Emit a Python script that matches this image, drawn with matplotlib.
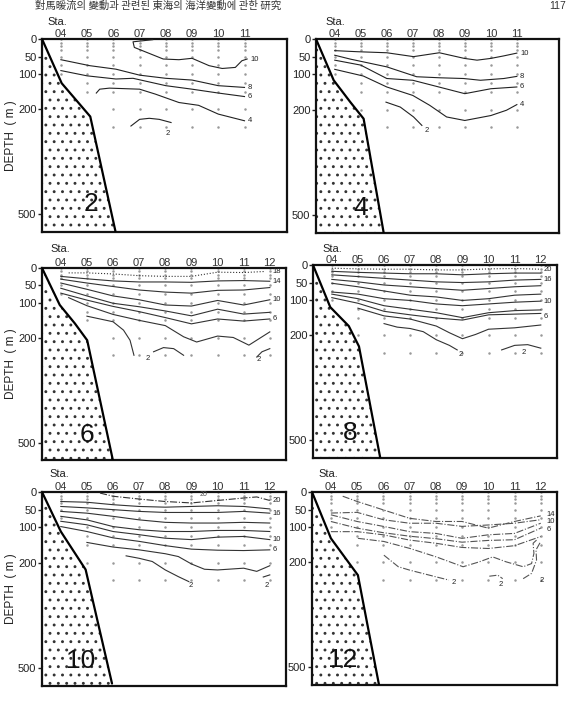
import numpy as np
import matplotlib
matplotlib.use('Agg')
import matplotlib.pyplot as plt
from matplotlib.patches import Polygon

plt.rcParams['font.family'] = ['Liberation Sans', 'DejaVu Sans']
plt.rcParams['hatch.linewidth'] = 0.9

W, H = 571, 708

# ---------------- data ----------------
STA11 = [4, 5, 6, 7, 8, 9, 10, 11]
STA12 = [4, 5, 6, 7, 8, 9, 10, 11, 12]
STA11_LABELS = ['04', '05', '06', '07', '08', '09', '10', '11']
STA12_LABELS = ['04', '05', '06', '07', '08', '09', '10', '11', '12']
DEPTH_TICKS = [0, 50, 100, 200, 500]
STD_DEPTHS = [0, 10, 20, 30, 50, 75, 100, 125, 150, 200, 250]
MONTHS = ['2', '4', '6', '8', '10', '12']

# bottom (shelf) profiles: station position vs depth
feb_bot_x = [3.28, 4.03, 5.12, 6.08]
feb_bot_d = [0, 126, 221, 548]
apr_bot_x = [3.28, 3.96, 4.6, 5.11, 5.88]
apr_bot_d = [0, 117, 179, 226, 549]
jun_bot_x = [3.28, 3.96, 4.54, 5.01, 6.0]
jun_bot_d = [0, 106, 159, 207, 553]
aug_bot_x = [3.28, 3.94, 4.65, 5.04, 5.86]
aug_bot_d = [0, 120, 174, 232, 552]
oct_bot_x = [3.28, 4.0, 4.95, 5.96]
oct_bot_d = [0, 112, 220, 543]
dec_bot_x = [3.28, 4.0, 5.03, 5.83]
dec_bot_d = [0, 132, 237, 548]

# February isotherms (depth, m)
feb_t10_x = [7.5, 6.75, 6.8, 7.1, 7.9, 8.5, 9.0, 9.65, 10.15, 10.65, 10.9, 11.1]
feb_t10_d = [2, 8, 24, 33, 57, 59, 55, 76, 84, 81, 62, 57]
feb_t8_x = [4.0, 5.1, 6.1, 7.0, 8.0, 9.0, 10.0, 11.0]
feb_t8_d = [59, 76, 86, 103, 112, 117, 133, 138]
feb_t6_x = [4.0, 5.0, 6.1, 6.75, 8.0, 9.0, 10.0, 11.0]
feb_t6_d = [90, 105, 114, 112, 133, 143, 154, 164]
feb_t4_x = [5.35, 5.48, 5.85, 7.0, 7.6, 8.5, 9.25, 10.0, 11.0]
feb_t4_d = [154, 143, 140, 143, 157, 181, 189, 214, 233]
feb_t2_x = [6.67, 7.0, 7.37, 7.75, 8.2]
feb_t2_d = [248, 229, 226, 229, 238]

# April
apr_t10_x = [4.0, 4.86, 6.0, 7.03, 8.02, 8.98, 9.47, 10.0, 10.49, 11.0]
apr_t10_d = [33, 36, 39, 50, 39, 55, 60, 55, 48, 40]
apr_t8_x = [4.0, 4.6, 6.0, 7.15, 8.05, 8.95, 9.6, 10.5, 11.0]
apr_t8_d = [46, 57, 79, 107, 110, 112, 117, 112, 106]
apr_t6_d = [60, 74, 112, 117, 136, 155, 141, 136]
apr_t4_x = [4.0, 5.1, 6.0, 7.0, 7.65, 8.3, 9.0, 10.0, 10.6, 11.0]
apr_t4_d = [86, 105, 136, 160, 188, 221, 231, 217, 202, 186]
apr_t2_x = [5.97, 6.52, 7.03, 7.35]
apr_t2_d = [179, 193, 221, 245]

# June
jun_t18_x = [4.3, 5, 6, 7, 8, 9, 10, 11, 11.8]
jun_t18_d = [14, 14, 17, 22, 24, 24, 12, 13, 10]
jun_t14_d = [24, 31, 37, 40, 40, 41, 37, 36, 38]
jun_t12_d = [32, 43, 53, 63, 69, 72, 64, 63, 56]
jun_t10_d = [43, 61, 80, 91, 106, 109, 93, 106, 91]
jun_t8_d = [58, 80, 101, 111, 123, 137, 118, 132, 127]
jun_t6_d = [72, 92, 110, 125, 142, 160, 146, 152, 146]
jun_t4_x = [4.3, 5, 6, 7, 8, 8.7, 9.2, 10, 10.6, 11.2, 12]
jun_t4_d = [85, 108, 133, 150, 165, 197, 212, 195, 199, 221, 183]
jun_t2a_x = [5.0, 6.0, 6.4, 6.65, 6.8]
jun_t2a_d = [138, 154, 178, 207, 250]
jun_t2b_x = [7.55, 7.93, 8.32, 8.7]
jun_t2b_d = [240, 228, 231, 250]
jun_t2c_x = [11.5, 11.7, 12.0]
jun_t2c_d = [255, 240, 231]

# August
aug_t20_d = [9, 11, 12, 12, 14, 14, 11, 10, 12]
aug_t18_d = [18, 21, 23, 25, 25, 28, 25, 23, 23]
aug_t16_d = [28, 33, 38, 43, 48, 50, 48, 43, 41]
aug_t14_d = [41, 48, 57, 62, 67, 72, 67, 62, 59]
aug_t12_d = [52, 62, 74, 86, 91, 101, 96, 86, 83]
aug_t10_d = [77, 83, 96, 101, 111, 116, 111, 106, 103]
aug_t8_d = [83, 96, 116, 126, 136, 150, 136, 130, 128]
aug_t6_d = [93, 109, 132, 142, 151, 157, 142, 140, 138]
aug_t4_x = [5, 6, 7, 7.5, 8, 8.5, 9, 9.5, 10, 11, 12]
aug_t4_d = [123, 145, 154, 164, 174, 193, 210, 198, 183, 179, 171]
aug_t2a_x = [6, 6.5, 7, 7.5, 8, 8.5, 8.8]
aug_t2a_d = [167, 177, 181, 190, 213, 229, 242]
aug_t2b_x = [10.5, 11, 11.5, 12]
aug_t2b_d = [242, 229, 227, 237]

# October
oct_t20_x = [5.5, 6, 7, 8, 9, 10, 11, 11.5, 12]
oct_t20_d = [3, 12, 20, 27, 31, 24, 17, 14, 24]
oct_t18_d = [27, 29, 36, 41, 43, 41, 39, 41, 48]
oct_t16_d = [41, 45, 50, 55, 58, 58, 58, 55, 60]
oct_t14_d = [55, 60, 69, 79, 86, 88, 88, 86, 88]
oct_t12_d = [69, 79, 98, 107, 112, 112, 109, 109, 112]
oct_t10_d = [83, 93, 112, 121, 131, 135, 128, 126, 135]
oct_t6_d = [98, 112, 130, 140, 152, 162, 165, 166, 164]
oct_t4_x = [5, 6, 7, 8, 8.5, 9, 9.5, 10, 11, 11.5, 12]
oct_t4_d = [143, 156, 164, 175, 183, 204, 219, 221, 216, 225, 209]
oct_t2a_x = [6.5, 7, 7.5, 8, 8.5, 8.9]
oct_t2a_d = [181, 188, 197, 221, 240, 254]
oct_t2b_x = [11.75, 12.0]
oct_t2b_d = [241, 235]

# December
dec_t14_x = [4.45, 5, 6, 7, 8, 9, 10, 11, 12]
dec_t14_d = [12, 27, 51, 75, 84, 84, 103, 84, 68]
dec_t12_d = [60, 58, 79, 89, 89, 98, 94, 89, 79]
dec_t10_d = [65, 84, 98, 113, 118, 132, 122, 118, 89]
dec_t6_d = [84, 103, 116, 126, 133, 143, 138, 136, 103]
dec_t5_d = [113, 113, 122, 137, 146, 158, 161, 153, 127]
dec_t4_x = [5.03, 6.02, 7.02, 8.02, 9.04, 9.66, 10.17, 10.68, 11.33, 11.65, 11.74, 11.71, 11.84]
dec_t4_d = [132, 141, 161, 185, 213, 199, 185, 199, 213, 204, 175, 146, 137]
dec_t2a_x = [6.02, 6.57, 7.02, 8.02, 8.5]
dec_t2a_d = [180, 213, 223, 242, 251]
dec_t2b_x = [10.04, 10.36, 10.55]
dec_t2b_d = [240, 237, 247]
dec_t2c_x = [11.33, 11.65, 11.84, 11.82, 12.0]
dec_t2c_d = [247, 232, 194, 165, 141]

# ---------------- layout ----------------
END = (0.12, 0)
panels = [
    dict(box=(42, 287, 39, 232), sta=STA11, lab=STA11_LABELS,
         bot=(feb_bot_x, feb_bot_d), num=(5.15, 470), style='-', color='#222',
         sta_txt=(47, 22), depth_lab=True,
         lines=[(feb_t10_x, feb_t10_d, '10', END),
                (feb_t8_x, feb_t8_d, '8', END),
                (feb_t6_x, feb_t6_d, '6', END),
                (feb_t4_x, feb_t4_d, '4', END),
                (feb_t2_x, feb_t2_d, '2', (-0.2, 30))]),
    dict(box=(316, 559, 39, 233), sta=STA11, lab=STA11_LABELS,
         bot=(apr_bot_x, apr_bot_d), num=(5.0, 480), style='-', color='#222',
         sta_txt=(325, 22), depth_lab=False,
         lines=[(apr_t10_x, apr_t10_d, '10', END),
                (apr_t8_x, apr_t8_d, '8', END),
                (STA11, apr_t6_d, '6', END),
                (apr_t4_x, apr_t4_d, '4', END),
                (apr_t2_x, apr_t2_d, '2', (0.12, 14))]),
    dict(box=(42, 286, 268, 460), sta=STA12, lab=STA12_LABELS,
         bot=(jun_bot_x, jun_bot_d), num=(5.0, 478), style='-', color='#333',
         sta_txt=(50, 249), depth_lab=True,
         lines=[(jun_t18_x, jun_t18_d, '18', (0.3, 0), ':'),
                (STA12, jun_t14_d, '14', END),
                (STA12, jun_t12_d, '', END),
                (STA12, jun_t10_d, '10', END),
                (STA12, jun_t8_d, '', END),
                (STA12, jun_t6_d, '6', END),
                (jun_t4_x, jun_t4_d, '', END),
                (jun_t2a_x, jun_t2a_d, '2', (0.45, 10)),
                (jun_t2b_x, jun_t2b_d, '', END),
                (jun_t2c_x, jun_t2c_d, '2', (-0.5, 32))]),
    dict(box=(313, 557, 265, 458), sta=STA12, lab=STA12_LABELS,
         bot=(aug_bot_x, aug_bot_d), num=(4.7, 480), style='-', color='#333',
         sta_txt=(322, 249), depth_lab=False,
         lines=[(STA12, aug_t20_d, '20', END, ':'),
                (STA12, aug_t18_d, '', END),
                (STA12, aug_t16_d, '16', END),
                (STA12, aug_t14_d, '', END),
                (STA12, aug_t12_d, '', END),
                (STA12, aug_t10_d, '10', END),
                (STA12, aug_t8_d, '', END),
                (STA12, aug_t6_d, '6', (0.12, 8)),
                (aug_t4_x, aug_t4_d, '', END),
                (aug_t2a_x, aug_t2a_d, '2', (0.05, 14)),
                (aug_t2b_x, aug_t2b_d, '2', (-0.75, 12))]),
    dict(box=(42, 286, 492, 686), sta=STA12, lab=STA12_LABELS,
         bot=(oct_bot_x, oct_bot_d), num=(4.75, 478), style='-', color='#333',
         sta_txt=(49, 474), depth_lab=True,
         lines=[(oct_t20_x, oct_t20_d, '20', END, '-.'),
                (STA12, oct_t18_d, '', END),
                (STA12, oct_t16_d, '16', END),
                (STA12, oct_t14_d, '', END),
                (STA12, oct_t12_d, '', END),
                (STA12, oct_t10_d, '10', END),
                (STA12, oct_t6_d, '6', END),
                (oct_t4_x, oct_t4_d, '', END),
                (oct_t2a_x, oct_t2a_d, '2', (0.0, 10)),
                (oct_t2b_x, oct_t2b_d, '2', (-0.2, 30))]),
    dict(box=(312, 557, 492, 685), sta=STA12, lab=STA12_LABELS,
         bot=(dec_bot_x, dec_bot_d), num=(4.45, 478), style='-.', color='#555',
         sta_txt=(318, 474), depth_lab=False,
         lines=[(dec_t14_x, dec_t14_d, '14', (0.22, -5)),
                (STA12, dec_t12_d, '', END),
                (STA12, dec_t10_d, '10', (0.22, -5)),
                (STA12, dec_t6_d, '6', (0.22, 4)),
                (STA12, dec_t5_d, '', END),
                (dec_t4_x, dec_t4_d, '', END),
                (dec_t2a_x, dec_t2a_d, '2', (0.1, 8)),
                (dec_t2b_x, dec_t2b_d, '2', (-0.15, 18)),
                (dec_t2c_x, dec_t2c_d, '2', (-0.05, 110))]),
]

XL, XR = 3.28, 12.62
YMAX = 550

fig = plt.figure(figsize=(W / 100, H / 100), dpi=100)

for p, month in zip(panels, MONTHS):
    L, R, T, B = p['box']
    ax = fig.add_axes([L / W, 1 - B / H, (R - L) / W, (B - T) / H])
    ax.set_xlim(XL, XR)
    ax.set_ylim(YMAX, 0)

    # shelf
    bx, bd = p['bot']
    verts = list(zip(bx, bd)) + [(bx[-1] + 0.2, YMAX + 20), (XL - 0.1, YMAX + 20), (XL - 0.1, 0)]
    ax.add_patch(Polygon(verts, closed=True, facecolor='none', edgecolor='#333',
                         hatch='..', linewidth=0, zorder=1))
    ax.plot(bx, bd, color='black', lw=1.6, zorder=3, solid_capstyle='round')

    # sampling points
    for s in p['sta']:
        bdep = np.interp(s, bx, bd)
        ds = [d for d in STD_DEPTHS if d <= bdep - 15]
        ax.plot([s] * len(ds), ds, ls='none', marker='.', ms=1.6, color='#999', zorder=2)

    # isotherms
    for item in p['lines']:
        x, d, lab, off = item[:4]
        ls = item[4] if len(item) > 4 else p['style']
        ax.plot(x, d, color=p['color'], lw=0.8, ls=ls, zorder=4)
        if lab:
            ax.text(x[-1] + off[0], d[-1] + off[1], lab, fontsize=5.5,
                    ha='left', va='center', color='#222', zorder=5)

    if month == '10':
        ax.text(9.45, 8, '20', fontsize=5, color='#555', ha='center', va='center')

    ax.text(p['num'][0], p['num'][1], month, fontsize=19, ha='center', va='center',
            color='#111', zorder=6)

    # axes styling
    ax.set_yticks(DEPTH_TICKS)
    ax.set_yticklabels([str(v) for v in DEPTH_TICKS])
    ax.tick_params(axis='y', direction='out', length=3, width=1, pad=1, labelsize=8,
                   colors='#222')
    ax.xaxis.tick_top()
    ax.set_xticks(p['sta'])
    ax.set_xticklabels(p['lab'])
    ax.tick_params(axis='x', length=0, pad=0.3, labelsize=8, colors='#333')
    for sp in ax.spines.values():
        sp.set_linewidth(1.6)
        sp.set_color('#111')

    fig.text(p['sta_txt'][0] / W, 1 - p['sta_txt'][1] / H, 'Sta.', fontsize=8,
             ha='left', va='center', color='#222')
    if p['depth_lab']:
        fig.text(11 / W, 1 - ((T + B) / 2) / H, 'DEPTH  ( m )', rotation=90,
                 fontsize=8.5, ha='center', va='center', color='#222')

fig.text(35 / W, 1 - 6 / H, '對馬暖流의 變動과 관련된 東海의 海洋變動에 관한 研究',
         family=['Noto Sans CJK KR', 'DejaVu Sans'], fontsize=7.5, ha='left',
         va='center', color='#333')
fig.text(566 / W, 1 - 6 / H, '117', fontsize=7.5, ha='right', va='center', color='#333')

fig.savefig('out.png', dpi=100)
